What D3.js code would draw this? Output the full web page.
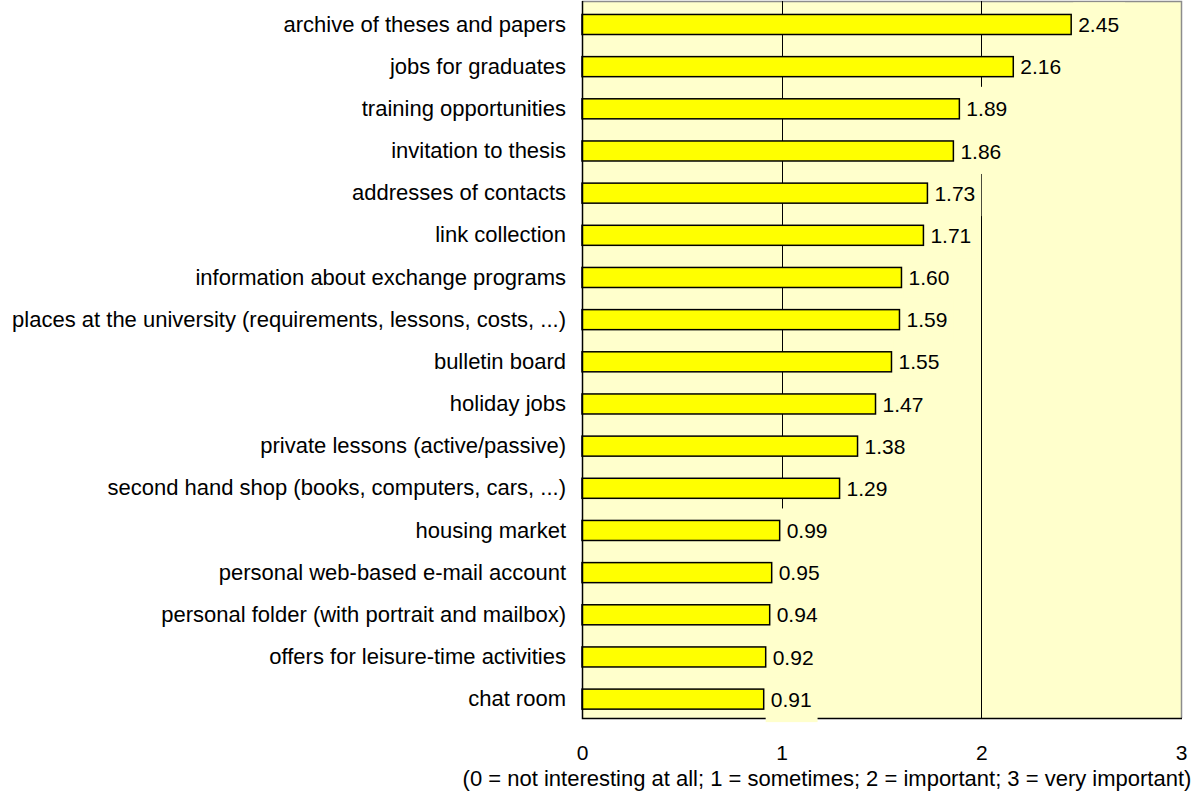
<!DOCTYPE html>
<html>
<head>
<meta charset="utf-8">
<script src="https://cdn.jsdelivr.net/npm/d3@7"></script>
<style>
  html, body { margin: 0; padding: 0; background: #ffffff; }
  svg { display: block; font-family: "Liberation Sans", Arial, sans-serif; }
</style>
</head>
<body>
<svg id="chart" width="1196" height="796"></svg>
<script>
// Survey items and their mean rating (0–3 scale)
const categories = [
  "archive of theses and papers",
  "jobs for graduates",
  "training opportunities",
  "invitation to thesis",
  "addresses of contacts",
  "link collection",
  "information about exchange programs",
  "places at the university (requirements, lessons, costs, ...)",
  "bulletin board",
  "holiday jobs",
  "private lessons (active/passive)",
  "second hand shop (books, computers, cars, ...)",
  "housing market",
  "personal web-based e-mail account",
  "personal folder (with portrait and mailbox)",
  "offers for leisure-time activities",
  "chat room"
];
const values = [2.45, 2.16, 1.89, 1.86, 1.73, 1.71, 1.60, 1.59, 1.55, 1.47, 1.38, 1.29, 0.99, 0.95, 0.94, 0.92, 0.91];
const tickValues = [0, 1, 2, 3];
const axisTitle = "(0 = not interesting at all; 1 = sometimes; 2 = important; 3 = very important)";

const svg = d3.select("#chart");
const plot = { left: 582, right: 1181, top: 1, bottom: 718 };
const plotBg = "#FFFFCC";
const textSize = 22;
const numberSize = 21;

const x = d3.scaleLinear().domain([0, 3]).range([plot.left, plot.right]);
const y = d3.scaleBand().domain(categories).range([3.4, 720.2]).paddingInner(0.525).paddingOuter(0.2625);

// plot area background
svg.append("rect")
  .attr("x", plot.left).attr("y", plot.top)
  .attr("width", plot.right - plot.left).attr("height", plot.bottom - plot.top)
  .attr("fill", plotBg);

// top and right frame (grey)
svg.append("path")
  .attr("d", `M${plot.left},${plot.top + 0.5}H${plot.right + 0.5}V${plot.bottom}`)
  .attr("fill", "none").attr("stroke", "#8c8c8c").attr("stroke-width", 1.5);

// vertical gridlines at 1 and 2
svg.append("g").selectAll("line")
  .data(tickValues.filter(t => t > 0 && t < 3))
  .join("line")
  .attr("x1", d => Math.round(x(d)) + 0.5).attr("x2", d => Math.round(x(d)) + 0.5)
  .attr("y1", plot.top).attr("y2", plot.bottom)
  .attr("stroke", "#000").attr("stroke-width", 1);

// bars
svg.append("g").selectAll("rect")
  .data(categories)
  .join("rect")
  .attr("x", x(0))
  .attr("y", d => y(d))
  .attr("width", (d, i) => x(values[i]) - x(0))
  .attr("height", y.bandwidth())
  .attr("fill", "#FFFF00")
  .attr("stroke", "#000")
  .attr("stroke-width", 1.5);

// left and bottom axis lines
svg.append("path")
  .attr("d", `M${plot.left + 0.5},${plot.top}V${plot.bottom + 0.5}H${plot.right + 1}`)
  .attr("fill", "none").attr("stroke", "#000").attr("stroke-width", 1.5);

// value labels sitting on boxes filled with the plot colour
const fmt = d3.format(".2f");
const labels = svg.append("g").selectAll("g")
  .data(categories)
  .join("g")
  .attr("transform", (d, i) => `translate(${x(values[i]) + 2},${y(d) + y.bandwidth() / 2})`);
const boxes = labels.append("rect")
  .attr("x", 0).attr("y", -22)
  .attr("height", 45)
  .attr("fill", plotBg);
const valueText = labels.append("text")
  .attr("x", 5)
  .attr("dy", "0.36em")
  .attr("font-size", numberSize)
  .attr("fill", "#000")
  .text((d, i) => fmt(values[i]));
valueText.each(function () {
  const w = this.getComputedTextLength();
  d3.select(this.parentNode).select("rect").attr("width", w + 11);
});

// category labels
const yAxis = d3.axisLeft(y).tickSize(0).tickPadding(16);
const yg = svg.append("g").attr("transform", `translate(${plot.left},0)`).call(yAxis);
yg.select(".domain").remove();
yg.selectAll("text")
  .attr("font-size", textSize)
  .attr("font-family", "Liberation Sans, Arial, sans-serif")
  .attr("fill", "#000");

// x tick labels
const xAxis = d3.axisBottom(x).tickValues(tickValues).tickSize(0).tickPadding(27).tickFormat(d3.format("d"));
const xg = svg.append("g").attr("transform", `translate(0,${plot.bottom})`).call(xAxis);
xg.select(".domain").remove();
xg.selectAll("text")
  .attr("font-size", numberSize)
  .attr("font-family", "Liberation Sans, Arial, sans-serif")
  .attr("fill", "#000");

// axis title
svg.append("text")
  .attr("x", 827).attr("y", 786)
  .attr("text-anchor", "middle")
  .attr("font-size", textSize)
  .attr("fill", "#000")
  .text(axisTitle);
</script>
</body>
</html>
